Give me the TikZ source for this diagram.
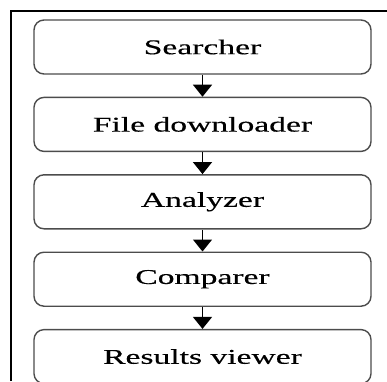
\documentclass[tikz,border=0pt]{standalone}
\usepackage{fontspec}
\setmainfont{Liberation Serif}
\newfontfamily\widefont[FakeStretch=1.6,FakeBold=0.4]{Liberation Serif}
\usetikzlibrary{arrows.meta,positioning}
\tikzset{
  stage/.style={draw=black!70, line width=1.4pt, rounded corners=10pt,
    minimum width=337pt, minimum height=54pt, inner sep=0pt,
    font=\widefont\fontsize{21}{25}\selectfont},
  flow/.style={line width=1.3pt, -{Triangle[width=19pt,length=12pt]}}
}
\begin{document}
\begin{tikzpicture}[x=1pt,y=-1pt]
\useasboundingbox (0,0) rectangle (387,381);
\draw[line width=2pt] (11,381) -- (11,11) -- (387,11);
\node[stage] (searcher) at (202.5,47) {Searcher};
\node[stage, below=22pt of searcher] (downloader) {File downloader};
\node[stage, below=22pt of downloader] (analyzer) {Analyzer};
\node[stage, below=22pt of analyzer] (comparer) {Comparer};
\node[stage, below=22pt of comparer] (viewer) {Results viewer};
\draw[flow] (searcher) -- (downloader);
\draw[flow] (downloader) -- (analyzer);
\draw[flow] (analyzer) -- (comparer);
\draw[flow] (comparer) -- (viewer);
\end{tikzpicture}
\end{document}
